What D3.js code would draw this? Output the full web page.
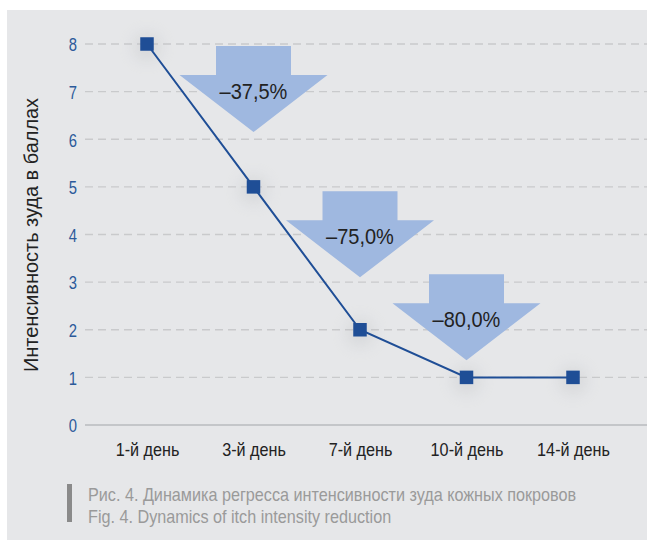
<!DOCTYPE html>
<html>
<head>
<meta charset="utf-8">
<script src="https://cdn.jsdelivr.net/npm/d3@7/dist/d3.min.js"></script>
<style>
  html, body { margin: 0; padding: 0; background: #ffffff; }
  svg { display: block; }
  text { font-family: "Liberation Sans", Arial, "Helvetica Neue", sans-serif; }
</style>
</head>
<body>
<svg id="chart" width="647" height="540"></svg>
<script>
// Itch intensity (points) by day of treatment
const days = ["1-й день", "3-й день", "7-й день", "10-й день", "14-й день"];
const scores = [8, 5, 2, 1, 1];
const yTicks = [0, 1, 2, 3, 4, 5, 6, 7, 8];

// Reduction arrows: label, category the arrow sits over, level of its tip
const arrowLabels = ["–37,5%", "–75,0%", "–80,0%"];
const arrowDays = ["3-й день", "7-й день", "10-й день"];
const arrowTipLevels = [6.15, 3.1, 1.36];

const captionLines = [
  "Рис. 4. Динамика регресса интенсивности зуда кожных покровов",
  "Fig. 4. Dynamics of itch intensity reduction"
];

const svg = d3.select("#chart");
const W = 647, H = 540;

// narrow the glyphs horizontally around each text's own anchor x
function condense(sel, k) {
  sel.each(function () {
    const t = d3.select(this);
    const ax = +t.attr("x") || 0;
    const prev = t.attr("transform") || "";
    t.attr("transform", prev + ` matrix(${k},0,0,1,${(1 - k) * ax},0)`);
  });
}

const defs = svg.append("defs");
const glow = defs.append("filter").attr("id", "soft")
  .attr("x", "-100%").attr("y", "-100%").attr("width", "300%").attr("height", "300%");
glow.append("feGaussianBlur").attr("stdDeviation", 9);

// panel
svg.append("rect").attr("x", 7).attr("y", 10).attr("width", W - 7).attr("height", H - 10)
  .attr("fill", "#e6e7e9");

const x = d3.scalePoint().domain(days).range([147, 573]);
const y = d3.scaleLinear().domain([0, 8]).range([425, 44]);

// grid
const gridX0 = 85, gridX1 = 647;
svg.append("g").selectAll("line").data(yTicks).join("line")
  .attr("x1", gridX0).attr("x2", gridX1)
  .attr("y1", d => y(d)).attr("y2", d => y(d))
  .attr("stroke", d => d === 0 ? "#b9bbbe" : "#c9cacc")
  .attr("stroke-width", d => d === 0 ? 1.6 : 1.3)
  .attr("stroke-dasharray", d => d === 0 ? null : "8,5");

// y axis
const yAxis = svg.append("g").attr("transform", "translate(77,0)")
  .call(d3.axisLeft(y).tickValues(yTicks).tickSize(0).tickPadding(0));
yAxis.select(".domain").remove();
yAxis.selectAll("text").attr("fill", "#2c5a9a").style("font-size", "19px")
  .attr("dy", "0.36em").call(condense, 0.78);

// x axis labels
const xAxis = svg.append("g").attr("transform", "translate(0,425)")
  .call(d3.axisBottom(x).tickSize(0).tickPadding(18));
xAxis.select(".domain").remove();
xAxis.selectAll("text").attr("fill", "#222").style("font-size", "18px")
  .call(condense, 0.9);

// y title
svg.append("text")
  .attr("transform", "translate(38,235) rotate(-90)")
  .attr("text-anchor", "middle")
  .attr("fill", "#222")
  .style("font-size", "21px")
  .text("Интенсивность зуда в баллах")
  .call(condense, 0.95);

// arrows
const headW = 148, shaftW = 75, headH = 57, shaftH = 29;
arrowLabels.forEach((lab, i) => {
  const cx = x(arrowDays[i]);
  const tipY = y(arrowTipLevels[i]);
  const headTop = tipY - headH;
  const top = headTop - shaftH;
  const pts = [
    [cx - shaftW / 2, top], [cx + shaftW / 2, top], [cx + shaftW / 2, headTop],
    [cx + headW / 2, headTop], [cx, tipY], [cx - headW / 2, headTop],
    [cx - shaftW / 2, headTop]
  ];
  svg.append("path").attr("d", d3.line()(pts) + "Z").attr("fill", "#9fb8e0");
  svg.append("text").attr("x", cx).attr("y", headTop + 24)
    .attr("text-anchor", "middle").attr("fill", "#222")
    .style("font-size", "21.5px").text(lab)
    .call(condense, 0.93);
});

// marker shadows
svg.append("g").selectAll("circle").data(scores).join("circle")
  .attr("cx", (d, i) => x(days[i])).attr("cy", d => y(d) + 3).attr("r", 12)
  .attr("fill", "#b8babd").attr("opacity", 0.45).attr("filter", "url(#soft)");

// line
svg.append("path").datum(scores)
  .attr("d", d3.line().x((d, i) => x(days[i])).y(d => y(d)))
  .attr("fill", "none").attr("stroke", "#1f4e96").attr("stroke-width", 2);

// markers
const s = 13.5;
svg.append("g").selectAll("rect").data(scores).join("rect")
  .attr("x", (d, i) => x(days[i]) - s / 2).attr("y", d => y(d) - s / 2)
  .attr("width", s).attr("height", s).attr("fill", "#1f4e96");

// caption
svg.append("rect").attr("x", 67).attr("y", 484).attr("width", 5).attr("height", 38)
  .attr("fill", "#8a8a8a");
svg.selectAll(".cap").data(captionLines).join("text").attr("class", "cap")
  .attr("x", 88).attr("y", (d, i) => 501 + i * 22)
  .attr("fill", "#9a9a9a").style("font-size", "18px").text(d => d)
  .call(condense, 0.9);
</script>
</body>
</html>
